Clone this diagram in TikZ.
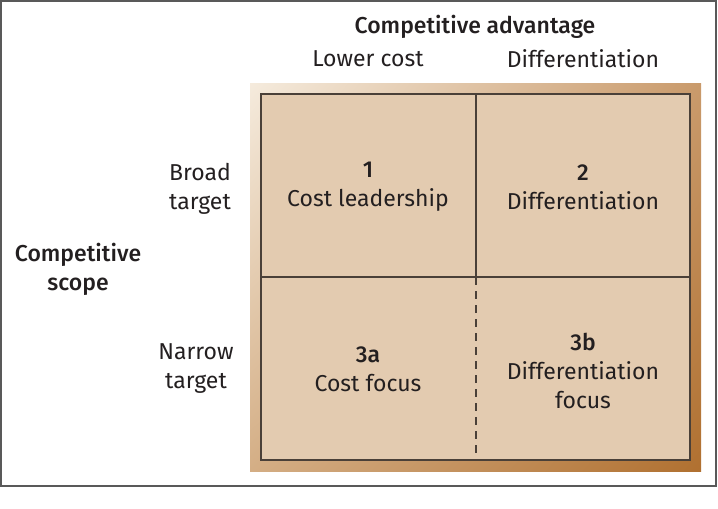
\documentclass[tikz,border=0pt]{standalone}
\usepackage{fontspec}
\setmainfont{Fira Sans}[BoldFont={Fira Sans Medium}]
\usepackage{tikz}
\usetikzlibrary{shadings}

\definecolor{cellfill}{HTML}{E3CBB0}
\definecolor{gridline}{HTML}{4A4038}
\definecolor{ink}{HTML}{231F20}
\definecolor{frameTL}{HTML}{F5EBDD}
\definecolor{frameTR}{HTML}{C99A6B}
\definecolor{frameBL}{HTML}{D4AE85}
\definecolor{frameBR}{HTML}{B07030}

\begin{document}
\begin{tikzpicture}[x=1pt,y=-1pt,font=\fontsize{23}{29}\selectfont,
  lbl/.style={text=ink,align=center,inner sep=0pt},
  head/.style={lbl,font=\fontsize{23}{29}\selectfont\bfseries}]
\useasboundingbox (0,0) rectangle (718,509);
\draw[gray!70!black,line width=1.5pt] (1,1) rectangle (716,486);
\shade[upper left=frameTL,upper right=frameTR,lower left=frameBL,lower right=frameBR] (250,83) rectangle (701,471);
\node[draw=gridline,fill=cellfill,line width=2pt,minimum width=429pt,minimum height=366pt,inner sep=0pt] (grid) at (475.5,277) {};
\draw[gridline,line width=2pt] (grid.north) -- (grid.center) (grid.west) -- (grid.east);
\draw[gridline,line width=2pt,dash pattern=on 8pt off 6pt] (grid.center) -- (grid.south);
% axis labels
\node[head] (adv) at (475,27) {Competitive advantage};
\node[lbl] (low) at (368,59) {Lower cost};
\node[lbl] (diff) at (583,59) {Differentiation};
\node[head] (scope) at (78,269) {Competitive\\scope};
\node[lbl] (broad) at (200,189) {Broad\\target};
\node[lbl] (narrow) at (196,369) {Narrow\\target};
% cells
\node[lbl] (c1) at (368,187) {\textbf{1}\\Cost leadership};
\node[lbl] (c2) at (583,187) {\textbf{2}\\Differentiation};
\node[lbl] (c3a) at (368,369) {\textbf{3a}\\Cost focus};
\node[lbl] (c3b) at (583,371) {\textbf{3b}\\Differentiation\\focus};
\end{tikzpicture}
\end{document}
